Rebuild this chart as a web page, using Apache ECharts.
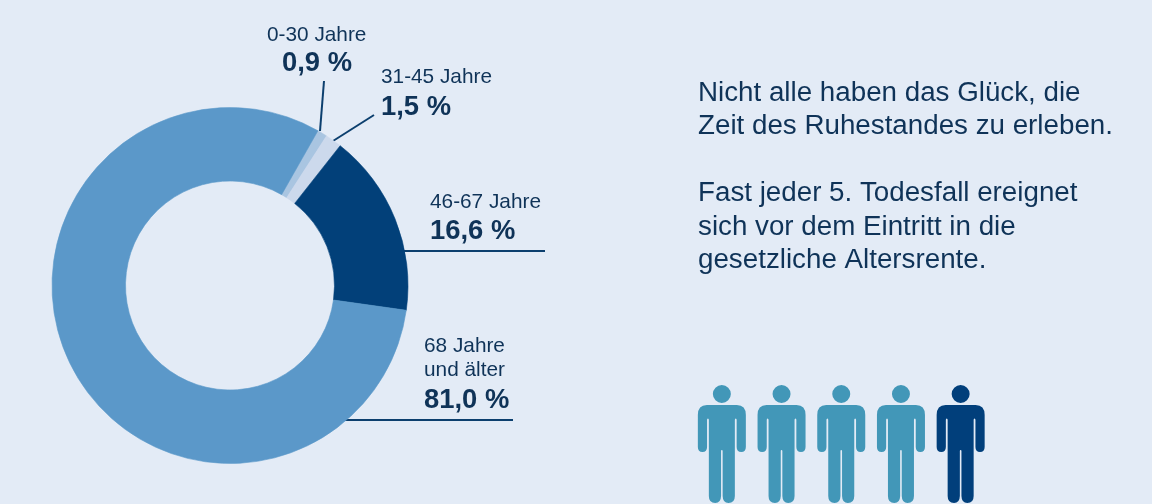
<!DOCTYPE html>
<html><head><meta charset="utf-8">
<style>html,body{margin:0;padding:0;background:#e3ebf6}#c{width:1152px;height:504px}</style>
<script src="https://cdn.jsdelivr.net/npm/echarts@6/dist/echarts.min.js"></script>
</head><body><div id="c"></div>
<script>
const categories = ['0-30 Jahre', '31-45 Jahre', '46-67 Jahre', '68 Jahre\nund älter'];
const values = [0.9, 1.5, 16.6, 81.0];
const sliceColors = ['#a9c5e1', '#ccd9ec', '#024079', '#5b98c9'];
const textLines = ['Nicht alle haben das Glück, die', 'Zeit des Ruhestandes zu erleben.', '', 'Fast jeder 5. Todesfall ereignet', 'sich vor dem Eintritt in die', 'gesetzliche Altersrente.'];
const people = ['1', '2', '3', '4', '5'];
const peopleValues = [1, 1, 1, 1, 1];
const peopleColors = ['#4297b8', '#4297b8', '#4297b8', '#4297b8', '#013f7b'];

const INK = '#0f3358', LINE = '#0c3f6e', FONT = '"Liberation Sans", Arial, sans-serif';
const person = 'path://M24 0A9 9 0 1 1 24 18A9 9 0 1 1 24 0ZM9 20L39 20Q48 20 48 30L48 62Q48 67 43.4 67Q38.8 67 38.8 62L38.8 35Q38.8 33.5 37.9 33.5Q37 33.5 37 35L37 111Q37 118 30.6 118Q25 118 24.8 111L24.8 66Q24.8 65 24 65Q23.2 65 23.2 66L23.2 111Q23 118 17.4 118Q11 118 11 111L11 35Q11 33.5 10.1 33.5Q9.2 33.5 9.2 35L9.2 62Q9.2 67 4.6 67Q0 67 0 62L0 30Q0 20 9 20Z';

const fmt = v => v.toFixed(1).replace('.', ',') + ' %';
const labelSpots = [
  {x: 267, y: 23, lines: 1, vx: 282, vy: 50},
  {x: 381, y: 65, lines: 1, vx: 381, vy: 94},
  {x: 430, y: 190, lines: 1, vx: 430, vy: 218},
  {x: 424, y: 334, lines: 2, vx: 424, vy: 387}
];
const leaders = [
  [[324, 81], [320, 131]],
  [[374, 115], [333, 141]],
  [[403, 251], [545, 251]],
  [[345, 420], [513, 420]]
];
const graphics = [];
categories.forEach((c, i) => {
  const s = labelSpots[i];
  graphics.push({type: 'text', left: s.x, top: s.y, style: {text: c, fill: INK, font: '20.8px ' + FONT, lineHeight: 24}});
  graphics.push({type: 'text', left: s.vx, top: s.vy, style: {text: fmt(values[i]), fill: INK, font: 'bold 27.4px ' + FONT}});
  graphics.push({type: 'polyline', shape: {points: leaders[i]}, style: {stroke: LINE, lineWidth: 2, fill: null}});
});
textLines.forEach((t, i) => {
  graphics.push({type: 'text', left: 698, top: 79 + i * 33.5, style: {text: t, fill: INK, font: '27.75px ' + FONT}});
});

const chart = echarts.init(document.getElementById('c'), null, {renderer: 'canvas'});
chart.setOption({
  animation: false,
  backgroundColor: '#e3ebf6',
  grid: {left: 692, top: 385, width: 298.5, height: 118},
  xAxis: {type: 'category', data: people, show: false},
  yAxis: {type: 'value', min: 0, max: 1, show: false},
  series: [
    {type: 'pie', center: [230, 285.5], radius: [104.5, 178], startAngle: 60.4, clockwise: true,
     silent: true, label: {show: false}, labelLine: {show: false},
     data: categories.map((c, i) => ({name: c, value: values[i], itemStyle: {color: sliceColors[i], borderColor: sliceColors[i], borderWidth: 0.6}}))},
    {type: 'pictorialBar', symbol: person, symbolSize: [48, 118], symbolPosition: 'start', silent: true,
     data: peopleValues.map((v, i) => ({value: v, itemStyle: {color: peopleColors[i]}}))}
  ],
  graphic: graphics
});
</script></body></html>
